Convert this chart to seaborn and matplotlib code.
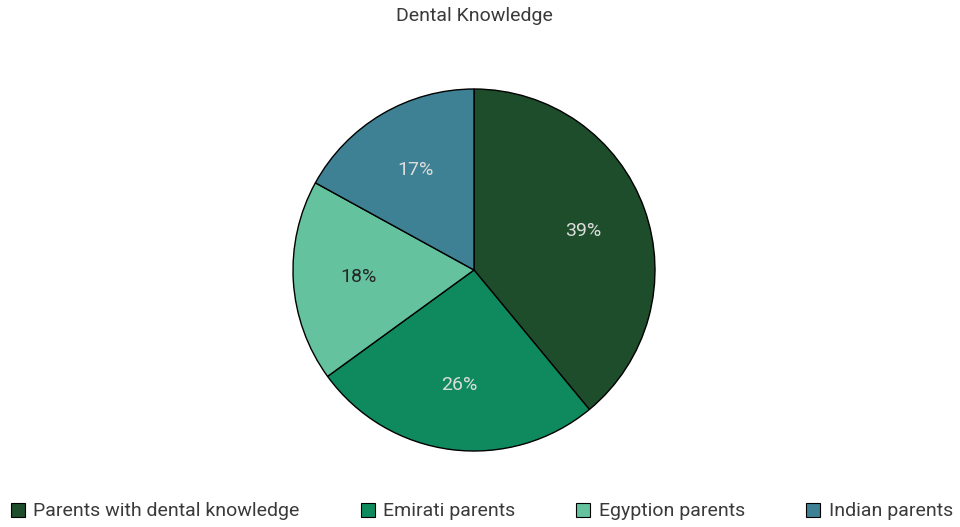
import matplotlib
matplotlib.use("Agg")
import matplotlib.pyplot as plt
from matplotlib.patches import Patch
import seaborn as sns

categories = ["Parents with dental knowledge", "Emirati parents", "Egyption parents", "Indian parents"]
shares = [39, 26, 18, 17]
colors = ["#1e4d2b", "#0f8a5f", "#64c39e", "#3f8194"]
label_colors = ["#dcdcdc", "#dcdcdc", "#262626", "#dcdcdc"]

sns.set_theme(style="white")
plt.rcParams["font.family"] = ["Roboto", "DejaVu Sans"]

FS = 14
WEIGHT = "normal"
TEXT_COLOR = "#3a3a3a"

fig = plt.figure(figsize=(9.6, 5.27), dpi=100)
ax = fig.add_axes([0.3052, 0.1442, 0.3771, 0.6869])

wedges, texts, autotexts = ax.pie(
    shares,
    colors=colors,
    startangle=90,
    counterclock=False,
    autopct="%d%%",
    pctdistance=0.64,
    wedgeprops=dict(edgecolor="black", linewidth=1),
    textprops=dict(fontsize=FS, fontweight=WEIGHT),
)
for t, c in zip(autotexts, label_colors):
    t.set_color(c)
ax.set_aspect("equal")
ax.set_xlim(-1.0, 1.0)
ax.set_ylim(-1.0, 1.0)
ax.axis("off")

fig.text(0.4937, 0.970, "Dental Knowledge", ha="center", va="center",
         fontsize=FS, fontweight=WEIGHT, color=TEXT_COLOR)

handles = [Patch(facecolor=c, edgecolor="black", linewidth=0.8) for c in colors]
leg = fig.legend(handles, categories, loc="lower left", ncol=4, mode="expand",
                 bbox_to_anchor=(0.007, 0.005, 0.99, 0.06), frameon=False,
                 borderaxespad=0, borderpad=0.2,
                 handlelength=0.72, handleheight=0.72, handletextpad=0.45,
                 prop=dict(family=["Roboto", "DejaVu Sans"], size=FS, weight=WEIGHT))
for t in leg.get_texts():
    t.set_color(TEXT_COLOR)

fig.savefig("out.png", dpi=100)
